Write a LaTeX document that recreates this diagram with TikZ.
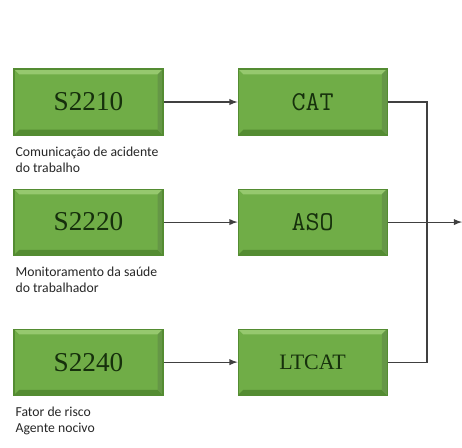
\documentclass[tikz,border=0pt]{standalone}
\usepackage{fontspec}
\setmainfont{Liberation Serif}
\newfontfamily\notefont{Carlito}
\usetikzlibrary{positioning, arrows}
\definecolor{boxfill}{RGB}{112,173,71}
\definecolor{boxlight}{RGB}{150,200,110}
\definecolor{boxdark}{RGB}{84,140,50}
\definecolor{boxtext}{RGB}{22,48,12}

\begin{document}
\begin{tikzpicture}[
     node distance = 1.06cm and 1.48cm,
     >=latex,
        box/.style = {rectangle, fill=boxfill, draw=boxdark, line width=0.6pt,
                      minimum width=2.98cm, minimum height=1.32cm, text=boxtext,
                      path picture={
                        \fill[boxlight] (path picture bounding box.north west) -- (path picture bounding box.north east)
                          -- ([xshift=-3pt,yshift=-3pt]path picture bounding box.north east)
                          -- ([xshift=3pt,yshift=-3pt]path picture bounding box.north west) -- cycle;
                        \fill[boxdark] (path picture bounding box.south west) -- (path picture bounding box.south east)
                          -- ([xshift=-3pt,yshift=3pt]path picture bounding box.south east)
                          -- ([xshift=3pt,yshift=3pt]path picture bounding box.south west) -- cycle;
                        \fill[boxdark!90] (path picture bounding box.north east) -- (path picture bounding box.south east)
                          -- ([xshift=-3pt,yshift=3pt]path picture bounding box.south east)
                          -- ([xshift=-3pt,yshift=-3pt]path picture bounding box.north east) -- cycle;}},
        code/.style = {font=\fontsize{15.5}{18}\selectfont},
        tag/.style = {font=\ttfamily\fontsize{15.5}{18}\selectfont},
        note/.style = {inner sep=0pt, align=left, anchor=north west, text=black!85,
                      font=\notefont\fontsize{7.8}{9.2}\selectfont},
        line/.style = {draw=black!75, line width=0.6pt}
                        ]
\useasboundingbox (0,0) rectangle (9.24,-8.94);
\node (s2210) [box, code] at (1.77,-2.04) {S2210};
\node (cat)   [box, tag, right=of s2210] {CAT};
\node (s2220) [box, code, below=of s2210] {S2220};
\node (aso)   [box, tag, right=of s2220] {ASO};
\node (s2240) [box, code, below=1.46cm of s2220] {S2240};
\node (ltcat) [box, font=\fontsize{12.5}{15}\selectfont, right=of s2240] {LTCAT};
\node (n2210) [note] at ([xshift=1pt,yshift=-0.22cm]s2210.south west) {Comunicação de acidente\\do trabalho};
\node (n2220) [note] at ([xshift=1pt,yshift=-0.22cm]s2220.south west) {Monitoramento da saúde\\do trabalhador};
\node (n2240) [note] at ([xshift=1pt,yshift=-0.22cm]s2240.south west) {Fator de risco\\Agente nocivo};
\coordinate (xj) at (8.54,0);
\coordinate (xo) at (9.24,0);
\coordinate (join) at (xj |- aso.east);
\coordinate (out)  at (xo |- aso.east);
\draw[line, ->] (s2210) to (cat);
\draw[line, ->] (s2220) to (aso);
\draw[line, ->] (s2240) to (ltcat);
\draw[line] (cat.east) -| (join) |- (ltcat.east);
\draw[line, ->] (aso.east) to (out);
\end{tikzpicture}
\end{document}
